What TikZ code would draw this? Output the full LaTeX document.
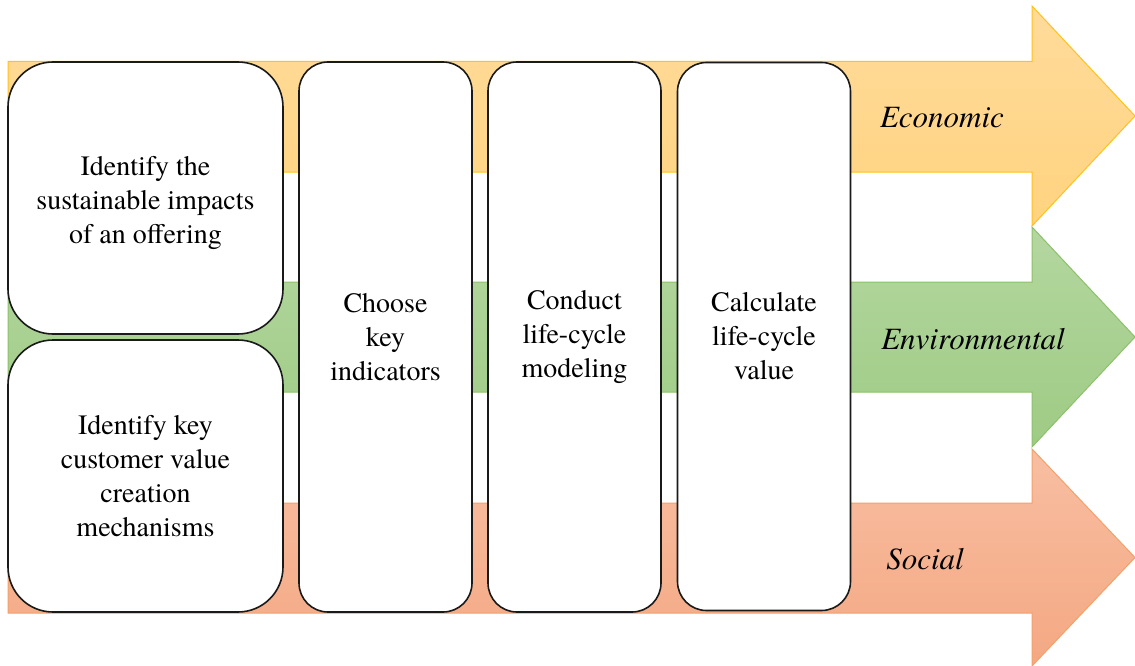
\documentclass[tikz,border=0pt]{standalone}
\usepackage{fontspec}
\setmainfont{TeX Gyre Termes}
\newfontfamily\cardfont{TeX Gyre Termes}
\definecolor{econtop}{HTML}{FFDB9B}
\definecolor{econbot}{HTML}{FFD37F}
\definecolor{econedge}{HTML}{FFC21A}
\definecolor{envtop}{HTML}{B4D7A0}
\definecolor{envbot}{HTML}{9ECB84}
\definecolor{envedge}{HTML}{8CC169}
\definecolor{soctop}{HTML}{F8BEA2}
\definecolor{socbot}{HTML}{F4A882}
\definecolor{socedge}{HTML}{F4A06A}
\definecolor{cardline}{HTML}{1A1A1A}
\tikzset{
  arrowband/.style={line width=1pt, line join=miter},
  cardtext/.style={align=center, inner sep=0pt, font=\cardfont\fontsize{28}{34}\selectfont},
  card/.style={cardtext, draw=cardline, line width=1.6pt, fill=white},
  widecard/.style={card, rounded corners=45pt, minimum width=275pt, minimum height=272pt},
  tallcard/.style={card, rounded corners=29pt, minimum width=173pt},
  catlabel/.style={font=\cardfont\itshape\fontsize{31}{37}\selectfont, inner sep=0pt}
}
\begin{document}
\begin{tikzpicture}[x=1pt,y=-1pt]
\useasboundingbox (0,0) rectangle (1135,666);

% three category arrows
\draw[arrowband, draw=econedge, top color=econtop, bottom color=econbot]
  (8,61.5) -- (1032,61.5) -- (1032,6) -- (1135,116) -- (1032,226)
  -- (1032,172) -- (8,172) -- cycle;
\draw[arrowband, draw=envedge, top color=envtop, bottom color=envbot]
  (8,282) -- (1032,282) -- (1032,227) -- (1135,337) -- (1032,447)
  -- (1032,392) -- (8,392) -- cycle;
\draw[arrowband, draw=socedge, top color=soctop, bottom color=socbot]
  (8,503) -- (1032,503) -- (1032,449) -- (1135,557.5) -- (1032,666)
  -- (1032,613) -- (8,613) -- cycle;

\node[catlabel] (econ) at (942,118) {Economic};
\node[catlabel] (env) at (973,339) {Environmental};
\node[catlabel] (soc) at (925,559) {Social};

% process steps
\node[widecard] (impacts) at (145.5,198) {};
\node[cardtext] (impactstext) at ([yshift=-5pt]impacts.center)
  {Identify the\\sustainable impacts\\of an offering};
\node[widecard] (mechanisms) at (145.5,476)
  {Identify key\\customer value\\creation\\mechanisms};
\node[tallcard, minimum height=550pt] (indicators) at (385.5,337)
  {Choose\\key\\indicators};
\node[tallcard, minimum height=550pt] (modeling) at (574.5,337)
  {Conduct\\life-cycle\\modeling};
\node[tallcard, minimum height=548pt] (value) at (764,336.5)
  {Calculate\\life-cycle\\value};
\end{tikzpicture}
\end{document}
